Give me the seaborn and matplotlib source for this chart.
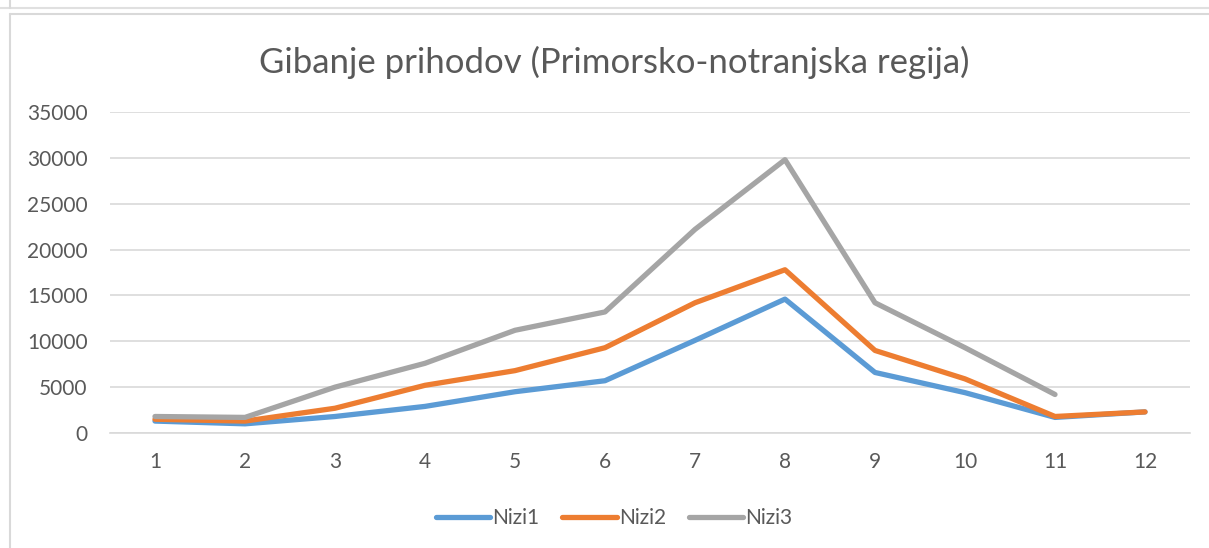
import numpy as np
import pandas as pd
import matplotlib
matplotlib.use("Agg")
import matplotlib.pyplot as plt
import seaborn as sns

months = list(range(1, 13))
nizi1 = [1300, 1000, 1800, 2900, 4500, 5700, 10100, 14600, 6600, 4400, 1700, 2300]
nizi2 = [1500, 1300, 2700, 5200, 6800, 9300, 14200, 17800, 9000, 5900, 1800, 2300]
nizi3 = [1800, 1700, 5000, 7600, 11200, 13200, 22200, 29800, 14200, 9300, 4200, np.nan]
series_names = ['Nizi1', 'Nizi2', 'Nizi3']
title = 'Gibanje prihodov (Primorsko-notranjska regija)'

df = pd.DataFrame({'Mesec': months, 'Nizi1': nizi1, 'Nizi2': nizi2, 'Nizi3': nizi3})
long = df.melt(id_vars='Mesec', var_name='Niz', value_name='Prihodki').dropna()

sns.set_theme(style="white")
plt.rcParams['font.family'] = ['Lato', 'DejaVu Sans']
text_col = '#595959'
palette = {'Nizi1': '#5B9BD5', 'Nizi2': '#ED7D31', 'Nizi3': '#A5A5A5'}

fig = plt.figure(figsize=(12.09, 5.48), dpi=100)
ax = fig.add_axes([110 / 1209, 1 - 433 / 548, 1080 / 1209, 321 / 548])

sns.lineplot(data=long, x='Mesec', y='Prihodki', hue='Niz', hue_order=series_names,
             palette=palette, linewidth=3.8, ax=ax, legend=True,
             solid_capstyle='round', solid_joinstyle='round')

ax.set_xlim(0.5, 12.5)
ax.set_ylim(0, 35000)
ax.set_xticks(months)
ax.set_yticks(range(0, 35001, 5000))
ax.yaxis.grid(True, color='#d9d9d9', linewidth=1.2)
ax.set_axisbelow(True)
for s in ['top', 'right', 'left']:
    ax.spines[s].set_visible(False)
ax.spines['bottom'].set_color('#d9d9d9')
ax.spines['bottom'].set_linewidth(1.2)
ax.tick_params(axis='both', length=0, labelsize=15, colors=text_col)
ax.tick_params(axis='y', pad=16)
ax.tick_params(axis='x', pad=14)
ax.set_xlabel('')
ax.set_ylabel('')

fig.text(0.508, 1 - 62 / 548, title, ha='center', va='center', fontsize=25, color=text_col)

handles, labels = ax.get_legend_handles_labels()
ax.legend(handles, labels, loc='center', bbox_to_anchor=(0.508, 1 - 518 / 548),
          bbox_transform=fig.transFigure, ncol=3, frameon=False, fontsize=15,
          labelcolor=text_col, handlelength=2.6, handletextpad=0.1, columnspacing=1.1)

# chart frame like the spreadsheet
fig.add_artist(plt.Line2D([0, 1], [1 - 8 / 548] * 2, color='#e0e0e0', linewidth=1.5, transform=fig.transFigure))
fig.add_artist(plt.Line2D([10 / 1209, 1], [1 - 14 / 548] * 2, color='#d9d9d9', linewidth=1.5, transform=fig.transFigure))
fig.add_artist(plt.Line2D([10 / 1209, 10 / 1209], [0, 1 - 14 / 548], color='#d9d9d9', linewidth=1.5, transform=fig.transFigure))
fig.add_artist(plt.Line2D([10 / 1209, 10 / 1209], [1 - 8 / 548, 1], color='#d9d9d9', linewidth=1.5, transform=fig.transFigure))

fig.savefig('out.png', dpi=100)
